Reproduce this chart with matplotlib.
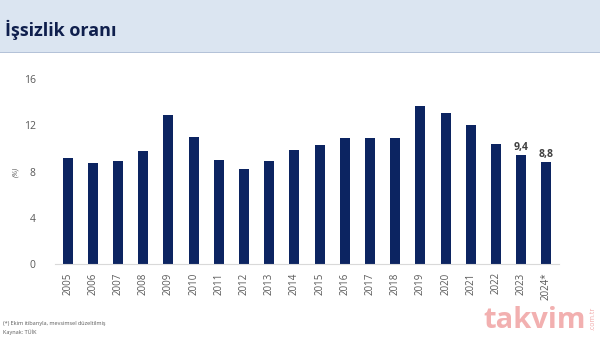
import matplotlib.pyplot as plt
from matplotlib.patches import Rectangle

# Unemployment rate by year (%)
years = ['2005', '2006', '2007', '2008', '2009', '2010', '2011', '2012', '2013', '2014',
         '2015', '2016', '2017', '2018', '2019', '2020', '2021', '2022', '2023', '2024*']
rates = [9.2, 8.7, 8.9, 9.8, 12.9, 11.0, 9.0, 8.2, 8.9, 9.9,
         10.3, 10.9, 10.9, 10.9, 13.7, 13.1, 12.0, 10.4, 9.4, 8.8]
labelled = {'2023': '9,4', '2024*': '8,8'}
yticks = [0, 4, 8, 12, 16]

navy = '#0c2461'
gray = '#595959'

fig = plt.figure(figsize=(6, 3.38), dpi=100)
plt.rcParams['font.family'] = ['Open Sans', 'DejaVu Sans']

# header band
fig.patches.append(Rectangle((0, 1 - 52 / 338), 1, 52 / 338, transform=fig.transFigure,
                             facecolor='#dbe5f1', edgecolor='none', zorder=0))
fig.patches.append(Rectangle((0, 1 - 53 / 338), 1, 1.5 / 338, transform=fig.transFigure,
                             facecolor='#b4c2d8', edgecolor='none', zorder=1))
fig.text(5 / 600, 1 - 30 / 338, 'İşsizlik oranı', fontsize=13, fontweight='bold',
         color='#0f1f4d', va='center', ha='left')

ax = fig.add_axes([55 / 600, 1 - 264 / 338, (559 - 55) / 600, (264 - 79) / 338])
x = list(range(len(years)))
ax.bar(x, rates, width=0.4, color=navy, zorder=2)

for i, (yr, val) in enumerate(zip(years, rates)):
    if yr in labelled:
        ax.text(i, val + 0.2, labelled[yr], ha='center', va='bottom',
                fontsize=7.5, fontweight='bold', color='#404040')

ax.set_xlim(-0.5, len(years) - 0.5)
ax.set_ylim(0, 16)
ax.set_yticks(yticks)
ax.set_yticklabels([str(t) for t in yticks], fontsize=7.5, color=gray)
ax.set_xticks(x)
ax.set_xticklabels(years, rotation=90, fontsize=7, color=gray)
ax.tick_params(length=0, pad=6)
ax.tick_params(axis='y', pad=14)
for s in ['top', 'right', 'left']:
    ax.spines[s].set_visible(False)
ax.spines['bottom'].set_color('#d9d9d9')
ax.set_ylabel('(%)', fontsize=5.5, color=gray, labelpad=3, style='italic')

fig.text(3 / 600, 1 - 324 / 338, '(*) Ekim itibarıyla, mevsimsel düzeltilmiş',
         fontsize=4, color=gray, va='center')
fig.text(3 / 600, 1 - 332 / 338, 'Kaynak: TÜİK', fontsize=4, color=gray, va='center')

# watermark
fig.text(535 / 600, 1 - 320 / 338, 'takvim', fontsize=21, fontweight='bold',
         color='#e87070', alpha=0.55, ha='center', va='center')
fig.text(593 / 600, 1 - 318 / 338, '.com.tr', fontsize=5, color='#e03c3c', alpha=0.45,
         rotation=90, ha='center', va='center')

fig.savefig('out.png', dpi=100)
